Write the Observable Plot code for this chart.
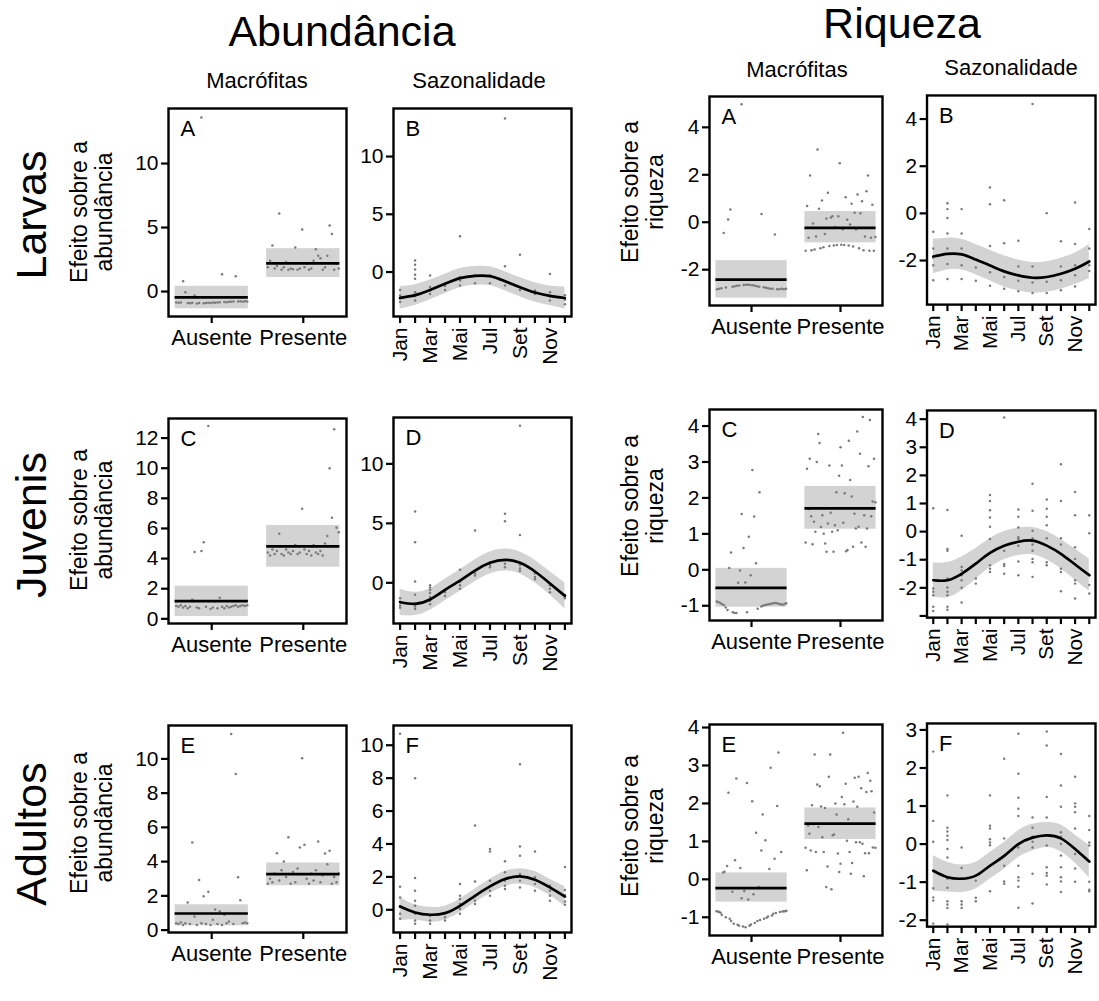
<!DOCTYPE html>
<html>
<head>
<meta charset="utf-8">
<script src="https://cdn.jsdelivr.net/npm/d3@7"></script>
<script src="https://cdn.jsdelivr.net/npm/@observablehq/plot@0.6"></script>
<style>
html,body{margin:0;padding:0;background:#fff;}
#root{position:relative;width:1099px;height:1001px;overflow:hidden;}
.panel{position:absolute;}
.panel svg{overflow:visible;}
#overlay{position:absolute;left:0;top:0;}
</style>
</head>
<body>
<div id="root"></div>
<script>
// ---------------- text ----------------
const groupTitles = ["Abundância", "Riqueza"];
const colTitles = ["Macrófitas", "Sazonalidade"];
const rowLabels = ["Larvas", "Juvenis", "Adultos"];
const yTitleAb = ["Efeito sobre a", "abundância"];
const yTitleRiq = ["Efeito sobre a", "riqueza"];
const panelLetters = ["A", "B", "C", "D", "E", "F"];
const levels = ["Ausente", "Presente"];
const months = [1,2,3,4,5,6,7,8,9,10,11,12];
const monthNames = ["Jan","Fev","Mar","Abr","Mai","Jun","Jul","Ago","Set","Out","Nov","Dez"];

// ---------------- Abundância – Larvas ----------------
const abLarvMacFit = [-0.45, 2.2];
const abLarvMacLo = [-1.35, 1.1];
const abLarvMacHi = [0.41, 3.35];
const abLarvMacAus = [-0.85,-0.88,-0.86,0.8,-0.05,-0.9,-0.92,-0.88,-0.3,-0.93,-0.9,13.6,-0.92,-0.9,-0.88,-0.9,-0.86,-0.88,-0.85,-0.84,1.35,-0.82,-0.83,-0.8,-0.8,-0.78,1.2,-0.78,-0.76,-0.8,-0.75,-0.78];
const abLarvMacPre = [1.9,2.4,3.6,1.8,2.0,6.1,1.7,1.9,2.3,1.7,1.8,1.75,3.45,1.7,1.8,4.85,1.9,2.2,1.7,1.8,2.4,3.3,2.8,2.6,1.7,1.9,2.8,5.15,4.5,1.7,2.2,1.8];
const abLarvSazFit = [-2.23,-2.0,-1.55,-1.02,-0.53,-0.33,-0.36,-0.8,-1.31,-1.77,-2.06,-2.25];
const abLarvSazLo = [-3.2,-2.9,-2.4,-1.85,-1.35,-1.15,-1.17,-1.62,-2.13,-2.6,-2.9,-3.2];
const abLarvSazHi = [-1.25,-1.1,-0.7,-0.2,0.3,0.48,0.45,0.02,-0.48,-0.93,-1.2,-1.3];
const abLarvSazPts = [
  [-1.55,-2.03,-2.3,-2.6],
  [0.99,0.64,0.22,-0.24,-0.59,-1.75,-2.1,-2.47],
  [-0.3,-1.3,-1.6,-1.9],
  [-1.55,-1.2],
  [3.1,-0.45,-0.74,-1.17],
  [-0.3,-0.97],
  [-0.3,-0.97],
  [13.3,0.5,-1.17],
  [1.5,-1.55],
  [-1.9,-1.6],
  [-0.16,-1.75,-2.12,-2.47],
  [-2.0,-2.4,-2.8]
];

// ---------------- Riqueza – Larvas ----------------
const riLarvMacFit = [-2.42, -0.24];
const riLarvMacLo = [-3.2, -0.87];
const riLarvMacHi = [-1.62, 0.45];
const riLarvMacAus = [-2.82,-2.8,-2.78,-0.45,-2.75,0.11,0.54,-2.72,-2.7,-2.68,-2.67,4.97,-2.65,-2.64,-2.64,-2.65,-2.66,-2.68,-2.7,-2.72,0.35,-2.74,-2.76,-2.78,-2.8,-2.8,-0.52,-2.82,-2.82,-2.8,-2.82,-2.8];
const riLarvMacPre = [-1.2,0.68,-0.65,1.97,-1.18,-0.05,-1.15,-0.6,3.07,0.57,-1.1,0.92,-1.05,-0.5,0.16,1.24,-1.0,0.2,0.25,-0.98,-0.2,-0.96,0.25,2.49,-0.95,-0.3,-0.96,1.05,0.1,-0.98,-0.1,0.78,-1.02,0.4,-0.3,1.17,-1.1,0.38,0.88,-1.18,-0.6,1.31,1.97,-1.2,-0.65,0.74,-1.2,-0.62];
const riLarvSazFit = [-1.83,-1.72,-1.74,-1.96,-2.21,-2.46,-2.63,-2.73,-2.70,-2.56,-2.35,-2.04];
const riLarvSazLo = [-2.56,-2.4,-2.4,-2.6,-2.86,-3.12,-3.28,-3.38,-3.35,-3.22,-3.02,-2.76];
const riLarvSazHi = [-1.1,-1.05,-1.1,-1.32,-1.56,-1.8,-1.98,-2.08,-2.05,-1.9,-1.68,-1.32];
const riLarvSazPts = [
  [-0.78,-1.49,-1.87,-2.2,-2.84],
  [0.43,0.18,-0.2,-0.85,-1.49,-2.15,-2.78],
  [0.18,-0.85,-1.49,-2.2,-2.78],
  [-2.3,-2.86],
  [1.1,0.39,-1.38,-2.5,-3.07],
  [0.56,-1.27,-2.7,-3.2],
  [-1.16,-2.25,-2.86,-3.3],
  [4.64,-2.25,-2.93,-3.38],
  [0.01,-2.9,-3.38],
  [-1.18,-2.25,-2.84,-3.26],
  [0.46,-1.3,-2.2,-2.62,-3.1],
  [-0.66,-1.49,-2.2,-2.44]
];

// ---------------- Abundância – Juvenis ----------------
const abJuvMacFit = [1.17, 4.81];
const abJuvMacLo = [0.15, 3.43];
const abJuvMacHi = [2.17, 6.2];
const abJuvMacAus = [0.85,0.8,0.9,0.75,0.85,0.7,0.8,1.26,4.43,0.75,0.7,4.5,5.09,0.8,12.8,0.65,0.75,1.17,0.7,1.4,0.8,0.7,0.85,0.75,0.8,0.85,0.9,0.8,0.85,0.9,0.85,0.9];
const abJuvMacPre = [4.4,4.2,4.6,4.3,4.5,5.65,4.3,4.2,4.6,4.4,4.3,4.5,4.9,4.3,4.4,7.31,4.6,4.3,4.5,4.2,4.9,4.4,4.3,4.5,4.2,5.0,5.5,10.0,6.71,12.58,6.05,5.75];
const abJuvSazFit = [-1.63,-1.77,-1.4,-0.59,0.19,1.03,1.68,1.93,1.68,0.95,-0.05,-1.1];
const abJuvSazLo = [-2.75,-2.75,-2.3,-1.5,-0.7,0.1,0.75,1.0,0.75,0.0,-1.0,-2.2];
const abJuvSazHi = [-0.55,-0.8,-0.5,0.3,1.1,1.95,2.6,2.85,2.6,1.9,0.95,0.0];
const abJuvSazPts = [
  [-1.3,-1.6,-1.9,-2.1],
  [6.0,3.41,0.11,-1.01,-1.8,-2.0,-2.2],
  [-0.2,-0.4,-0.6,-0.85,-1.2,-1.5,-1.8],
  [-0.8,-1.1],
  [1.09,0.1,-0.2,-0.5],
  [4.39,0.61,0.8],
  [1.3,1.5,1.7],
  [5.8,5.18,1.3,1.6,1.9],
  [13.2,4.03,1.5,1.2,1.0],
  [0.5,0.8,0.3],
  [-0.2,-0.5,-0.8],
  [-1.0,-1.3]
];

// ---------------- Riqueza – Juvenis ----------------
const riJuvMacFit = [-0.5, 1.71];
const riJuvMacLo = [-1.04, 1.13];
const riJuvMacHi = [0.04, 2.32];
const riJuvMacAus = [-0.88,-0.9,-0.92,-0.96,-0.98,-1.05,-1.12,0.05,0.48,-1.18,-1.2,-1.2,-0.36,-0.02,1.55,0.61,-0.35,-1.18,0.92,-0.15,2.78,1.48,0.18,-1.08,2.16,-1.02,-1.0,-0.98,-0.97,-0.96,-0.95,-0.94,-0.93,-0.92,-0.93,-0.95,-0.96,-0.97,-0.95,-0.93];
const riJuvMacPre = [0.76,2.81,1.69,3.09,1.49,0.71,1.34,1.06,3.0,3.78,3.53,1.19,1.52,1.0,0.73,0.5,1.29,2.9,1.59,1.06,0.5,1.24,2.16,1.1,2.62,3.41,2.9,1.31,2.13,0.52,0.55,3.59,2.5,2.04,0.64,1.56,1.15,3.85,1.2,3.23,0.76,4.25,1.52,0.64,1.15,2.88,4.17,1.49,1.9,3.09,1.88];
const riJuvSazFit = [-1.73,-1.73,-1.5,-1.14,-0.76,-0.5,-0.36,-0.32,-0.5,-0.79,-1.17,-1.55];
const riJuvSazLo = [-2.32,-2.35,-2.1,-1.7,-1.28,-1.0,-0.85,-0.82,-1.0,-1.32,-1.72,-2.12];
const riJuvSazHi = [-1.11,-1.1,-0.9,-0.6,-0.25,0.0,0.13,0.15,0.0,-0.28,-0.62,-0.98];
const riJuvSazPts = [
  [0.83,-2.02,-2.14,-2.26,-2.67,-2.82],
  [0.77,-0.62,-0.68,-1.67,-1.99,-2.14,-2.26,-2.67,-2.78],
  [-0.15,-1.26,-1.38,-1.55,-1.73,-2.0,-2.52],
  [-1.67,-1.85],
  [1.3,1.09,0.76,0.5,0.17,-0.26,-1.2,-1.32,-1.44],
  [4.06,-0.68,-1.15,-1.22,-1.5],
  [0.79,0.53,0.15,-0.2,-0.26,-0.5,-1.06,-1.55],
  [1.7,0.74,0.03,-0.24,-0.46,-0.68,-0.97,-1.09,-1.61],
  [1.14,0.81,0.53,0.23,-0.24,-1.09,-1.2],
  [2.4,1.09,-0.24,-0.46,-1.32,-1.44,-2.12],
  [1.41,0.58,-0.56,-0.97,-1.73,-1.85,-2.38],
  [0.58,-0.06,-1.55,-1.9,-2.2]
];

// ---------------- Abundância – Adultos ----------------
const abAdMacFit = [0.97, 3.27];
const abAdMacLo = [0.25, 2.59];
const abAdMacHi = [1.48, 3.92];
const abAdMacAus = [0.4,0.35,0.45,0.3,0.4,1.61,0.35,5.12,0.8,0.3,2.92,0.4,1.97,0.35,2.24,0.3,0.6,1.21,0.35,1.1,0.3,0.9,0.4,0.5,11.46,0.35,9.12,3.08,1.75,0.4,0.45,0.4];
const abAdMacPre = [2.7,3.0,2.8,3.3,4.49,2.9,3.5,4.0,3.1,5.42,2.7,3.4,2.8,3.6,4.82,10.04,4.99,3.0,2.7,3.3,2.9,3.5,5.17,2.8,3.2,4.47,3.85,4.63,2.7,3.1,2.8,3.3];
const abAdSazFit = [0.2,-0.16,-0.3,-0.2,0.24,0.85,1.42,1.87,2.03,1.83,1.36,0.8];
const abAdSazLo = [-0.67,-0.62,-0.75,-0.62,-0.17,0.43,0.98,1.41,1.56,1.34,0.87,0.2];
const abAdSazHi = [0.75,0.3,0.15,0.22,0.65,1.27,1.86,2.33,2.5,2.32,1.85,1.4];
const abAdSazPts = [
  [10.7,1.4,0.75,0.2,-0.24,-0.55],
  [8.0,1.93,1.16,0.55,0.25,-0.24,-0.65,-0.85],
  [-0.37,-0.65,-0.85],
  [-0.45,-0.65],
  [1.56,0.85,0.65,0.35,0.05,-0.24],
  [5.12,1.72,0.55,0.35],
  [3.7,3.54,1.76,1.16,0.85],
  [2.95,2.28,1.76,1.46,1.26],
  [8.84,3.84,3.29,2.17,1.76,1.36],
  [3.54,1.98,1.56,1.16],
  [1.46,1.16,0.85,0.55],
  [2.6,1.2,0.9,0.5,0.3]
];

// ---------------- Riqueza – Adultos ----------------
const riAdMacFit = [-0.23, 1.47];
const riAdMacLo = [-0.6, 1.05];
const riAdMacHi = [0.17, 1.88];
const riAdMacAus = [-0.84,-0.85,-0.86,-0.88,-0.94,0.18,0.2,-1.0,0.35,2.28,-1.04,-1.1,-0.33,-1.17,0.5,2.66,-1.2,-1.22,0.3,-0.5,-1.24,-0.31,-1.26,2.54,-0.53,-1.22,-1.19,2.06,-0.39,-1.15,1.23,-1.1,-0.2,-1.07,0.76,1.71,-1.04,1.03,-1.01,-0.98,0.27,2.94,-0.95,-0.91,0.54,-0.89,1.93,3.34,-0.86,0.72,-0.85,-0.84,-0.84,-0.83];
const riAdMacPre = [0.83,0.24,1.42,1.2,0.76,1.95,1.45,3.29,0.72,2.5,1.38,2.45,1.92,1.11,0.72,1.88,-0.2,0.34,2.7,3.29,-0.26,1.16,1.18,2.0,1.71,0.68,0.19,0.41,2.17,3.86,1.98,2.52,1.02,1.58,0.72,0.15,0.43,2.05,2.68,0.98,1.91,2.7,0.98,2.4,0.94,0.08,0.69,2.3,2.8,0.69,2.6,2.32,0.84,1.76,0.83];
const riAdSazFit = [-0.7,-0.87,-0.91,-0.83,-0.57,-0.31,0.0,0.17,0.23,0.15,-0.13,-0.46];
const riAdSazLo = [-1.24,-1.26,-1.27,-1.18,-0.92,-0.66,-0.35,-0.18,-0.09,-0.2,-0.5,-0.89];
const riAdSazHi = [-0.3,-0.48,-0.55,-0.48,-0.22,0.04,0.35,0.52,0.57,0.5,0.24,-0.03];
const riAdSazPts = [
  [2.43,0.61,0.06,-1.16,-1.4,-1.48,-2.09],
  [1.28,0.43,0.33,0.22,0.11,-0.13,-0.35,-0.91,-1.15,-1.5,-1.59,-1.68,-2.11],
  [-0.09,-0.63,-0.9,-1.5,-1.59,-1.68],
  [-0.96,-1.41,-1.5],
  [1.28,0.48,0.41,0.13,0.04,-0.03,-0.57,-1.24],
  [2.24,0.15,-0.57,-0.98,-1.04],
  [2.9,1.85,1.22,0.93,0.74,-0.09,-0.57,-0.87,-0.96,-1.12,-1.67],
  [0.7,0.43,0.19,0.06,-0.09,-0.78,-1.56],
  [2.96,2.59,1.24,0.7,-0.04,-0.61,-0.76,-0.83,-1.06],
  [2.37,1.54,0.98,0.31,0.19,0.0,-0.3,-0.61,-0.87,-0.98,-1.26],
  [1.77,1.07,0.98,0.84,0.41,-0.26,-0.64,-0.99],
  [0.74,0.37,0.04,-0.04,-0.99,-1.2,-1.24]
];

// ---------------- drawing ----------------
const FONT = '"Liberation Sans", Arial, Helvetica, sans-serif';
const root = document.getElementById("root");
const M = {l: 56, r: 4, t: 4, b: 66};
const BAND = "#d3d3d3", DOT = "#7a7a7a";
const fmt = d => String(d);
const TICK_FS = 21, CAT_FS = 22, MONTH_FS = 21, LETTER_FS = 22;

function place(svg, left, top) {
  const d = document.createElement("div");
  d.className = "panel";
  d.style.left = left + "px";
  d.style.top = top + "px";
  d.appendChild(svg);
  root.appendChild(d);
}

function common(cfg) {
  const [L, T, R, B] = cfg.frame;
  return {
    width: R - L + M.l + M.r, height: B - T + M.t + M.b,
    marginLeft: M.l, marginRight: M.r, marginTop: M.t, marginBottom: M.b,
    style: {fontFamily: FONT, fontSize: TICK_FS + "px", color: "black", background: "transparent", overflow: "visible"},
    y: {domain: cfg.yDomain}
  };
}
function yAxis(cfg) {
  return Plot.axisY({ticks: cfg.yTicks, tickFormat: cfg.yFormat || fmt, tickSize: 7, tickPadding: 3, strokeWidth: 2.2, fontSize: TICK_FS, label: null});
}
function letterMark(cfg) {
  return Plot.text([cfg.letter], {frameAnchor: "top-left", dx: 12, dy: 12, text: d => d, fontSize: LETTER_FS, textAnchor: "start", lineAnchor: "top"});
}

function macroPanel(cfg) {
  const bands = levels.map((lv, i) => ({x1: i + 1 - 0.4, x2: i + 1 + 0.4, lo: cfg.lo[i], hi: cfg.hi[i], fit: cfg.fit[i]}));
  const pts = [cfg.aus, cfg.pre].flatMap((vals, k) => vals.map((v, i) => ({x: k + 1 - 0.4 + 0.8 * (i + 0.5) / vals.length, y: v})));
  const svg = Plot.plot({
    ...common(cfg),
    x: {domain: [0.528, 2.472]},
    marks: [
      Plot.rect(bands, {x1: "x1", x2: "x2", y1: "lo", y2: "hi", fill: BAND}),
      Plot.dot(pts, {x: "x", y: "y", r: 1.25, fill: DOT}),
      Plot.ruleY(bands, {y: "fit", x1: "x1", x2: "x2", stroke: "black", strokeWidth: 2.7}),
      Plot.frame({stroke: "black", strokeWidth: 2.4}),
      yAxis(cfg),
      Plot.axisX({ticks: [1, 2], tickFormat: d => levels[d - 1], tickSize: 7, tickPadding: 6, strokeWidth: 2.2, fontSize: CAT_FS, label: null}),
      letterMark(cfg)
    ]
  });
  place(svg, cfg.frame[0] - M.l, cfg.frame[1] - M.t);
}

function sazPanel(cfg) {
  const data = months.map((m, i) => ({m, lo: cfg.lo[i], hi: cfg.hi[i], fit: cfg.fit[i]}));
  const pts = cfg.pts.flatMap((arr, i) => arr.map(v => ({m: months[i], y: v})));
  const svg = Plot.plot({
    ...common(cfg),
    x: {domain: [0.56, 12.44]},
    marks: [
      Plot.areaY(data, {x: "m", y1: "lo", y2: "hi", fill: BAND, curve: "natural"}),
      Plot.dot(pts, {x: "m", y: "y", r: 1.25, fill: DOT}),
      Plot.line(data, {x: "m", y: "fit", stroke: "black", strokeWidth: 2.7, curve: "natural"}),
      Plot.frame({stroke: "black", strokeWidth: 2.4}),
      yAxis(cfg),
      Plot.axisX({ticks: months, tickFormat: d => (d % 2 === 1 ? monthNames[d - 1] : ""), tickRotate: -90, tickSize: 7, tickPadding: 4, strokeWidth: 2.2, fontSize: MONTH_FS, label: null}),
      letterMark(cfg)
    ]
  });
  place(svg, cfg.frame[0] - M.l, cfg.frame[1] - M.t);
}

// Row 1 – Larvas
macroPanel({frame: [168, 108, 346, 316], yDomain: [-1.95, 14.3], yTicks: [0, 5, 10], letter: panelLetters[0],
  fit: abLarvMacFit, lo: abLarvMacLo, hi: abLarvMacHi, aus: abLarvMacAus, pre: abLarvMacPre});
sazPanel({frame: [393, 108, 571, 316], yDomain: [-3.85, 14.16], yTicks: [0, 5, 10], letter: panelLetters[1],
  fit: abLarvSazFit, lo: abLarvSazLo, hi: abLarvSazHi, pts: abLarvSazPts});
macroPanel({frame: [709, 96, 882, 305], yDomain: [-3.51, 5.3], yTicks: [-2, 0, 2, 4], letter: panelLetters[0],
  fit: riLarvMacFit, lo: riLarvMacLo, hi: riLarvMacHi, aus: riLarvMacAus, pre: riLarvMacPre});
sazPanel({frame: [927, 95, 1097, 306], yDomain: [-3.87, 5.0], yTicks: [-2, 0, 2, 4], letter: panelLetters[1],
  fit: riLarvSazFit, lo: riLarvSazLo, hi: riLarvSazHi, pts: riLarvSazPts});

// Row 2 – Juvenis
macroPanel({frame: [168, 418, 346, 623], yDomain: [-0.31, 13.3], yTicks: [0, 2, 4, 6, 8, 10, 12], letter: panelLetters[2],
  fit: abJuvMacFit, lo: abJuvMacLo, hi: abJuvMacHi, aus: abJuvMacAus, pre: abJuvMacPre});
sazPanel({frame: [393, 417, 571, 623], yDomain: [-3.42, 13.9], yTicks: [0, 5, 10], letter: panelLetters[3],
  fit: abJuvSazFit, lo: abJuvSazLo, hi: abJuvSazHi, pts: abJuvSazPts});
macroPanel({frame: [709, 409, 882, 620], yDomain: [-1.41, 4.46], yTicks: [-1, 0, 1, 2, 3, 4], letter: panelLetters[2],
  fit: riJuvMacFit, lo: riJuvMacLo, hi: riJuvMacHi, aus: riJuvMacAus, pre: riJuvMacPre});
sazPanel({frame: [927, 410, 1097, 619], yDomain: [-3.06, 4.31], yTicks: [-3, -2, -1, 0, 1, 2, 3, 4], yFormat: d => (d === -3 ? "" : String(d)), letter: panelLetters[3],
  fit: riJuvSazFit, lo: riJuvSazLo, hi: riJuvSazHi, pts: riJuvSazPts});

// Row 3 – Adultos
macroPanel({frame: [168, 725, 346, 932], yDomain: [-0.14, 11.95], yTicks: [0, 2, 4, 6, 8, 10], letter: panelLetters[4],
  fit: abAdMacFit, lo: abAdMacLo, hi: abAdMacHi, aus: abAdMacAus, pre: abAdMacPre});
sazPanel({frame: [393, 725, 571, 932], yDomain: [-1.38, 11.2], yTicks: [0, 2, 4, 6, 8, 10], letter: panelLetters[5],
  fit: abAdSazFit, lo: abAdSazLo, hi: abAdSazHi, pts: abAdSazPts});
macroPanel({frame: [709, 724, 882, 935], yDomain: [-1.48, 4.08], yTicks: [-1, 0, 1, 2, 3, 4], letter: panelLetters[4],
  fit: riAdMacFit, lo: riAdMacLo, hi: riAdMacHi, aus: riAdMacAus, pre: riAdMacPre});
sazPanel({frame: [927, 723, 1097, 928], yDomain: [-2.17, 3.17], yTicks: [-2, -1, 0, 1, 2, 3], letter: panelLetters[5],
  fit: riAdSazFit, lo: riAdSazLo, hi: riAdSazHi, pts: riAdSazPts});

// ---------------- overlay text ----------------
const ov = d3.select(root).append("svg").attr("id", "overlay")
  .attr("width", 1099).attr("height", 1001)
  .style("font-family", FONT).style("pointer-events", "none");
function txt(s, x, y, size, rot) {
  const t = ov.append("text").attr("text-anchor", "middle").attr("font-size", size).attr("fill", "black").text(s);
  if (rot) t.attr("transform", `translate(${x},${y}) rotate(-90)`);
  else t.attr("x", x).attr("y", y);
}
txt(groupTitles[0], 342, 46, 43);
txt(groupTitles[1], 902, 38, 43);
txt(colTitles[0], 257, 88, 22);
txt(colTitles[1], 479, 88, 22);
txt(colTitles[0], 797, 77, 22);
txt(colTitles[1], 1011, 75, 22);
const rowCY = [215, 525, 834];
const abTitleCY = [212, 520, 823];
const riTitleCY = [192, 506, 826];
rowLabels.forEach((s, i) => {
  txt(s, 46, rowCY[i], 43, true);
  txt(yTitleAb[0], 87, abTitleCY[i], 23, true);
  txt(yTitleAb[1], 112, abTitleCY[i], 23, true);
  txt(yTitleRiq[0], 638, riTitleCY[i], 23, true);
  txt(yTitleRiq[1], 663, riTitleCY[i], 23, true);
});
</script>
</body>
</html>
